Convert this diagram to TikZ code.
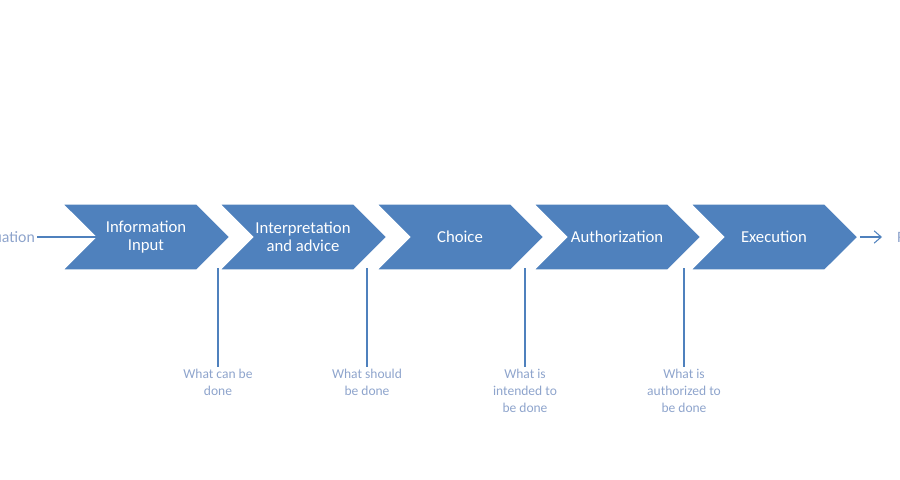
\documentclass[tikz,border=0pt]{standalone}
\usepackage{fontspec}
\setmainfont{Carlito}
\usetikzlibrary{arrows.meta, positioning, shapes.symbols}

\definecolor{officeblue}{HTML}{4F81BD}
\definecolor{notegrey}{HTML}{8EA4CC}

\tikzset{
  chev/.style={shape=signal, signal from=west, signal to=east, signal pointer angle=90,
    minimum width=3.38cm, minimum height=1.34cm, fill=officeblue, draw=white, line width=1.2pt,
    text=white, align=center, font=\fontsize{9.5}{10.3}\selectfont, inner sep=0pt},
  note/.style={text=notegrey, align=center, font=\fontsize{7.7}{9.6}\selectfont, inner sep=1pt},
  hang/.style={officeblue, line width=0.6pt},
  flow/.style={officeblue, line width=0.6pt, -{Straight Barb[length=4pt,width=7pt]}}
}

\begin{document}
\begin{tikzpicture}[x=0.02cm, y=-0.02cm]
  \useasboundingbox (0,0) rectangle (900,480);

  % the five steps
  \node[chev] (c1) at (146,237) {Information\\Input};
  \node[chev] (c2) at (303,237) {Interpretation\\and advice};
  \node[chev] (c3) at (460,237) {Choice};
  \node[chev] (c4) at (617,237) {Authorization};
  \node[chev] (c5) at (774,237) {Execution};

  % in and out
  \node[note, anchor=east, font=\fontsize{9}{11}\selectfont] (src) at (37,237) {Situation};
  \node[note, anchor=west, font=\fontsize{9}{11}\selectfont] (dst) at (895,237) {Result};
  \draw[flow] (src.east) -- (108,237);
  \draw[flow] (c5.east) -- (882,237);

  % what each step settles
  \node[note, anchor=north] (q1) at (218,367) {What can be\\done};
  \node[note, anchor=north] (q2) at (367,367) {What should\\be done};
  \node[note, anchor=north] (q3) at (525,367) {What is\\intended to\\be done};
  \node[note, anchor=north] (q4) at (684,367) {What is\\authorized to\\be done};

  \coordinate (h1) at (218,268);
  \coordinate (h2) at (367,268);
  \coordinate (h3) at (525,268);
  \coordinate (h4) at (684,268);
  \foreach \i in {1,...,4}
    \draw[hang] (h\i) -- (q\i.north);
\end{tikzpicture}
\end{document}
